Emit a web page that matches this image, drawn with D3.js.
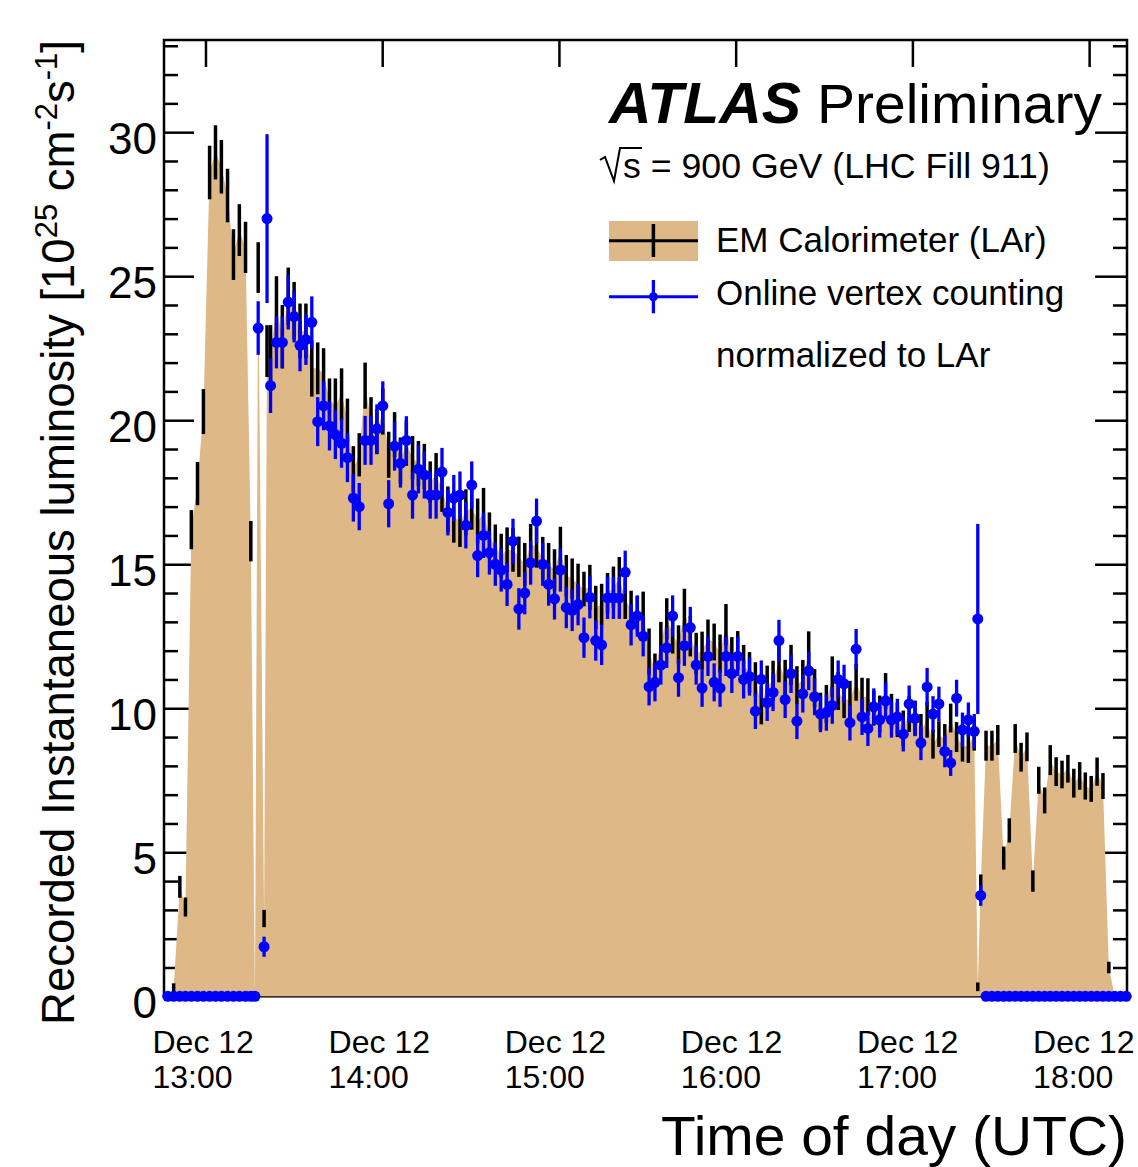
<!DOCTYPE html>
<html><head><meta charset="utf-8">
<script src="https://cdn.jsdelivr.net/npm/d3@7"></script>
<style>
body{margin:0;background:#fff;}
svg text{font-family:"Liberation Sans",Arial,Helvetica,sans-serif;fill:#000;}
</style>
</head><body>
<svg id="c" width="1138" height="1167"></svg>
<script>
// time of each measurement, minutes after 12:00 UTC, Dec 12
const timeMinutes = [47.2,49.2,51.3,53.2,55.2,57.3,59.3,61.4,63.4,65.4,67.5,69.5,71.5,73.6,75.4,76.8,
77.9,79.9,80.9,
82.1,84.1,86.1,88.1,90.1,92.1,94.1,96.1,98.1,100.1,
102.1,104.1,106.2,108.2,110.2,112.2,114.2,116.2,118.2,120.2,
122.2,124.2,126.2,128.2,130.3,132.3,134.3,136.3,138.3,140.3,
142.3,144.3,146.4,148.4,150.4,152.4,154.4,156.4,158.4,160.4,
162.4,164.4,166.4,168.4,170.4,172.4,174.5,176.5,178.5,180.5,
182.5,184.5,186.5,188.5,190.5,192.5,194.5,196.5,198.5,200.5,
202.5,204.5,206.6,208.6,210.6,212.6,214.6,216.6,218.6,220.6,
222.6,224.6,226.6,228.6,230.6,232.7,234.7,236.7,238.7,240.7,
242.7,244.7,246.7,248.7,250.7,252.7,254.7,256.8,258.8,260.8,
262.8,264.8,266.8,268.8,270.8,272.8,274.8,276.8,278.8,280.9,
282.9,284.9,286.9,288.9,290.9,292.9,294.9,296.9,298.9,300.9,
302.9,305.0,307.0,309.0,311.0,313.0,315.0,317.0,319.0,321.0,
322.2,323.2,
325.0,327.0,329.0,331.0,332.9,334.9,336.9,338.9,340.9,342.9,344.9,346.8,348.8,350.8,352.8,354.8,356.8,358.7,360.7,362.7,364.7,366.7,368.7,370.7,372.6];

// EM Calorimeter (LAr) luminosity [1e25 cm^-2 s^-1]
const larLumi = [null,0.3,3.8,3.1,16.2,17.8,20.3,28.6,29.3,28.8,27.8,25.75,26.6,26.0,15.8,0,
25.3,2.7,22.4,
22.3,23.9,22.9,24.3,23.8,23.1,23.1,21.8,21.8,21.6,
20.7,20.5,20.9,20.0,18.3,18.8,21.2,20.0,19.6,20.3,
18.8,19.5,18.6,19.2,18.7,18.5,18.4,17.85,18.1,17.6,
16.9,16.65,16.5,16.8,17.0,16.5,16.75,16.0,15.6,15.3,
15.5,15.5,15.26,15.0,15.7,15.6,15.2,15.0,14.8,15.5,
14.6,14.5,14.3,14.14,14.2,13.5,13.6,14.0,14.2,14.5,
13.8,13.4,13.3,13.35,11.97,11.3,12.3,13.1,12.6,12.2,
13.4,12.5,11.9,12.0,12.4,12.3,11.9,12.9,11.8,12.0,
11.5,11.25,11.0,10.1,10.8,10.95,11.6,11.0,11.5,10.8,
11.0,11.97,10.7,9.9,10.15,11.1,10.6,10.3,10.3,10.9,
10.4,10.4,10.0,9.8,10.6,9.9,9.6,9.3,9.8,9.65,
9.2,9.6,8.75,9.1,8.9,9.66,9.0,8.7,8.67,9.1,
0.33,3.9,
8.7,8.7,8.9,4.8,5.76,8.95,8.3,8.66,4.0,7.5,6.8,8.2,7.8,7.7,7.9,7.4,7.65,7.3,7.2,7.8,7.3,1.0,0,null,null];

const larErr = [null,0.15,0.38,0.33,0.68,0.75,0.78,0.93,0.94,0.93,0.93,0.88,0.9,0.89,0.7,0,
0.88,0.3,0.9,
1.0,1.1,1.1,1.0,1.0,0.95,0.95,0.98,0.9,0.9,
0.75,0.95,0.9,0.75,0.8,0.75,0.8,0.8,0.78,0.8,
0.8,0.78,0.8,0.78,0.75,0.78,0.78,0.72,0.76,0.78,
0.8,0.9,0.9,0.8,0.8,0.78,0.9,0.8,0.78,0.76,
0.78,0.76,0.7,0.74,0.7,0.72,0.75,0.74,0.72,0.8,
0.72,0.7,0.72,0.6,0.78,0.75,0.72,0.7,0.72,0.75,
0.7,0.68,0.6,0.7,0.8,0.6,0.7,0.72,0.7,0.68,
0.75,0.7,0.72,0.66,0.68,0.64,0.66,0.72,0.67,0.68,
0.7,0.7,0.6,0.66,0.68,0.7,0.7,0.68,0.7,0.66,
0.68,0.7,0.66,0.64,0.66,0.7,0.66,0.64,0.65,0.64,
0.66,0.64,0.6,0.64,0.62,0.6,0.6,0.62,0.62,0.6,
0.6,0.62,0.5,0.45,0.55,0.5,0.52,0.55,0.57,0.57,
0.15,0.33,
0.52,0.52,0.52,0.4,0.42,0.5,0.5,0.5,0.37,0.47,0.45,0.52,0.5,0.48,0.48,0.5,0.48,0.47,0.45,0.49,0.45,0.2,0,null,null];

// Online vertex counting, normalized to LAr
const vtxLumi = [0,0,0,0,0,0,0,0,0,0,0,0,0,0,0,0,
23.2,1.72,27.0,
21.2,22.7,22.7,24.1,23.6,22.6,22.8,23.4,19.95,20.5,
19.8,19.5,19.2,18.7,17.3,17.0,19.3,19.3,19.7,20.5,
17.1,19.1,18.5,19.3,17.4,18.3,18.1,17.4,17.4,18.2,
16.8,17.3,17.4,16.35,17.75,15.3,16.0,15.4,15.0,14.8,
14.3,15.8,13.45,14.0,15.05,16.5,15.0,14.3,13.8,14.8,
13.5,13.4,13.6,12.45,13.85,12.35,12.2,13.83,13.83,13.83,
14.72,12.9,13.2,12.5,10.75,10.9,11.5,12.1,13.2,11.06,
12.17,12.8,11.5,10.7,11.8,10.9,10.7,11.8,11.2,11.8,
11.0,11.1,9.9,11.0,10.2,10.55,12.35,10.3,11.2,9.55,
10.5,11.3,10.4,9.8,9.85,10.1,11.0,10.85,9.5,12.05,
9.7,9.3,10.05,9.6,10.26,9.6,9.7,9.1,10.15,9.65,
8.8,10.74,9.8,10.15,8.5,8.1,10.35,9.25,9.6,9.2,
13.1,3.5,
0,0,0,0,0,0,0,0,0,0,0,0,0,0,0,0,0,0,0,0,0,0,0,0,0];

const vtxErr = [0,0,0,0,0,0,0,0,0,0,0,0,0,0,0,0,
0.93,0.35,2.93,
0.95,0.9,0.9,0.95,0.9,0.9,0.88,0.9,0.85,0.85,
0.85,0.85,0.85,0.85,0.82,0.82,0.85,0.85,0.85,0.85,
0.82,0.85,0.84,0.84,0.82,0.84,0.82,0.82,0.82,0.84,
0.8,0.8,0.82,0.8,0.82,0.75,0.78,0.76,0.75,0.75,
0.75,0.78,0.72,0.74,0.76,0.78,0.75,0.74,0.72,0.75,
0.72,0.72,0.72,0.7,0.73,0.7,0.7,0.73,0.73,0.73,
0.75,0.72,0.72,0.7,0.65,0.66,0.68,0.7,0.72,0.66,
0.7,0.72,0.68,0.65,0.68,0.66,0.65,0.68,0.67,0.68,
0.66,0.66,0.62,0.66,0.64,0.65,0.72,0.64,0.67,0.62,
0.65,0.67,0.64,0.63,0.63,0.64,0.66,0.66,0.62,0.7,
0.63,0.61,0.64,0.62,0.64,0.62,0.63,0.6,0.64,0.62,
0.6,0.66,0.62,0.6,0.55,0.45,0.64,0.6,0.6,0.6,
3.3,0.36,
0,0,0,0,0,0,0,0,0,0,0,0,0,0,0,0,0,0,0,0,0,0,0,0,0];

const yTickValues = [0,5,10,15,20,25,30];
const xTickHours = ["13:00","14:00","15:00","16:00","17:00","18:00"];
const xTickDay = "Dec 12";
const legendLabels = ["EM Calorimeter (LAr)","Online vertex counting","normalized to LAr"];

const FONT = '"Liberation Sans",Arial,Helvetica,sans-serif';
const FILL = "#DEB887";
const base = Date.UTC(2009, 11, 12, 12, 0, 0);
const toDate = m => new Date(base + m * 60000);
const hourDate = s => { const [h, mi] = s.split(":").map(Number); return toDate((h - 12) * 60 + mi); };

const points = timeMinutes.map((m, i) => ({
  t: toDate(m), lar: larLumi[i], larE: larErr[i], vtx: vtxLumi[i], vtxE: vtxErr[i]
}));

const L = 164, R = 1127, T = 40, B = 996.3;
const x = d3.scaleUtc().domain([toDate(45.92), toDate(372.86)]).range([L, R]);
const y = d3.scaleLinear().domain([0, 33.2]).range([B, T]);

const svg = d3.select("#c");
const minorY = d3.range(0, 34).filter(v => v % 5 !== 0);
const hourTicks = xTickHours.map(hourDate);

function styleAxis(g) {
  g.select(".domain").remove();
  g.selectAll("line").attr("stroke", "#000").attr("stroke-width", 2.5);
}
const axes = svg.append("g");
axes.append("g").attr("transform", `translate(${L},0)`)
  .call(d3.axisLeft(y).tickValues(yTickValues).tickSizeInner(-30).tickSizeOuter(0).tickPadding(7))
  .call(styleAxis)
  .call(g => g.selectAll("text").attr("font-size", 44).attr("font-family", FONT).attr("dy", "21.5px").attr("fill", "#000"));
axes.append("g").attr("transform", `translate(${L},0)`)
  .call(d3.axisLeft(y).tickValues(minorY).tickSizeInner(-14).tickSizeOuter(0).tickFormat(""))
  .call(styleAxis);
axes.append("g").attr("transform", `translate(${R},0)`)
  .call(d3.axisRight(y).tickValues(yTickValues).tickSizeInner(-32).tickSizeOuter(0).tickFormat(""))
  .call(styleAxis);
axes.append("g").attr("transform", `translate(${R},0)`)
  .call(d3.axisRight(y).tickValues(minorY).tickSizeInner(-14).tickSizeOuter(0).tickFormat(""))
  .call(styleAxis);
axes.append("g").attr("transform", `translate(0,${T})`)
  .call(d3.axisTop(x).tickValues(hourTicks).tickSizeInner(-27).tickSizeOuter(0).tickFormat(""))
  .call(styleAxis);
axes.append("g").attr("transform", `translate(0,${B})`)
  .call(d3.axisBottom(x).tickValues(hourTicks).tickSizeInner(-27).tickSizeOuter(0).tickFormat(""))
  .call(styleAxis);
axes.append("rect").attr("x", L).attr("y", T).attr("width", R - L).attr("height", B - T)
  .attr("fill", "none").attr("stroke", "#000").attr("stroke-width", 2.5);

// LAr filled area
const larPts = points.filter(d => d.lar != null);
svg.append("path").datum(larPts)
  .attr("d", d3.area().x(d => x(d.t)).y0(y(0)).y1(d => y(d.lar)))
  .attr("fill", FILL);

// LAr error bars
svg.append("g").selectAll("line").data(larPts.filter(d => d.larE > 0)).join("line")
  .attr("x1", d => x(d.t)).attr("x2", d => x(d.t))
  .attr("y1", d => y(d.lar - d.larE)).attr("y2", d => y(d.lar + d.larE))
  .attr("stroke", "#000").attr("stroke-width", 3.5);

// vertex counting points
const vtxPts = points.filter(d => d.vtx != null);
svg.append("g").selectAll("line").data(vtxPts.filter(d => d.vtxE > 0)).join("line")
  .attr("x1", d => x(d.t)).attr("x2", d => x(d.t))
  .attr("y1", d => y(d.vtx - d.vtxE)).attr("y2", d => y(d.vtx + d.vtxE))
  .attr("stroke", "#0000ff").attr("stroke-width", 3.3);
svg.append("g").selectAll("circle").data(vtxPts).join("circle")
  .attr("cx", d => x(d.t)).attr("cy", d => y(d.vtx)).attr("r", 5.5)
  .attr("fill", "#0000ff");

// x tick labels (two lines)
const xl = svg.append("g").attr("font-size", 32);
hourTicks.forEach((d, i) => {
  const tx = x(d) - 53 - i * 0.6;
  xl.append("text").attr("x", tx).attr("y", 1053).text(xTickDay);
  xl.append("text").attr("x", tx).attr("y", 1088).text(xTickHours[i]);
});

// axis titles
svg.append("text").attr("x", 1127).attr("y", 1155).attr("text-anchor", "end")
  .attr("font-size", 56).attr("textLength", 466).attr("lengthAdjust", "spacingAndGlyphs")
  .text("Time of day (UTC)");
const yt = svg.append("text").attr("transform", "translate(74,40) rotate(-90)")
  .attr("text-anchor", "end").attr("font-size", 45.5);
yt.append("tspan").text("Recorded Instantaneous luminosity [10");
yt.append("tspan").attr("font-size", 31).attr("dy", "-17").text("25");
yt.append("tspan").attr("dy", "17").text(" cm");
yt.append("tspan").attr("font-size", 31).attr("dy", "-17").text("-2");
yt.append("tspan").attr("dy", "17").text("s");
yt.append("tspan").attr("font-size", 31).attr("dy", "-17").text("-1");
yt.append("tspan").attr("dy", "17").text("]");

// ATLAS label
svg.append("text").attr("x", 609).attr("y", 123).attr("font-size", 57)
  .attr("font-weight", "bold").attr("font-style", "italic")
  .attr("textLength", 192).attr("lengthAdjust", "spacingAndGlyphs").text("ATLAS");
svg.append("text").attr("x", 817).attr("y", 123).attr("font-size", 56)
  .attr("textLength", 285).attr("lengthAdjust", "spacingAndGlyphs").text("Preliminary");
svg.append("path").attr("d", "M600,160 L605,157 L614,181 L620,148 L642,148")
  .attr("fill", "none").attr("stroke", "#000").attr("stroke-width", 2);
svg.append("text").attr("x", 623).attr("y", 178).attr("font-size", 35.7).text("s = 900 GeV (LHC Fill 911)");

// legend
const lg = svg.append("g");
lg.append("rect").attr("x", 609).attr("y", 221).attr("width", 89).attr("height", 40).attr("fill", FILL);
lg.append("line").attr("x1", 609).attr("x2", 698).attr("y1", 240.7).attr("y2", 240.7).attr("stroke", "#000").attr("stroke-width", 3);
lg.append("line").attr("x1", 653.4).attr("x2", 653.4).attr("y1", 224).attr("y2", 257).attr("stroke", "#000").attr("stroke-width", 3.5);
lg.append("line").attr("x1", 609).attr("x2", 698).attr("y1", 296.7).attr("y2", 296.7).attr("stroke", "#0000ff").attr("stroke-width", 3);
lg.append("line").attr("x1", 653.4).attr("x2", 653.4).attr("y1", 280).attr("y2", 313.3).attr("stroke", "#0000ff").attr("stroke-width", 3.3);
lg.append("circle").attr("cx", 653.4).attr("cy", 296.7).attr("r", 4.5).attr("fill", "#0000ff");
[251.7, 305, 366.7].forEach((yy, i) => {
  lg.append("text").attr("x", 716).attr("y", yy).attr("font-size", 35).text(legendLabels[i]);
});
</script>
</body></html>
